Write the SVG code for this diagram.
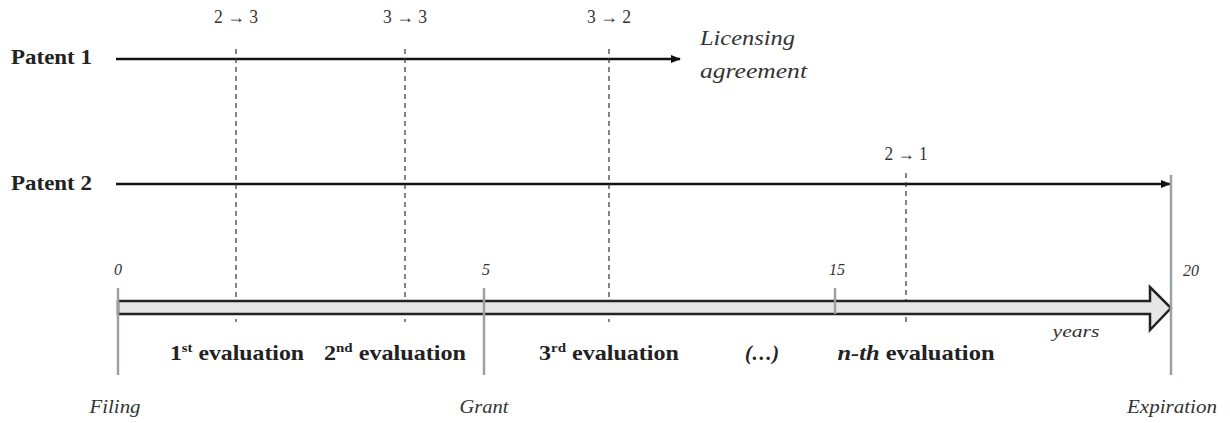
<svg xmlns="http://www.w3.org/2000/svg" width="1230" height="423" viewBox="0 0 1230 423">
<style>
text{font-family:"Liberation Serif","Times New Roman",serif;fill:#222}
.pat{font-size:21px;font-weight:bold}
.tr{font-size:18px;text-anchor:middle;fill:#333}
.it{font-style:italic;fill:#333}
.num{font-size:16px;text-anchor:middle}
.ev{font-size:21px;font-weight:bold;text-anchor:middle}
.dash{stroke:#333;stroke-width:1.2;stroke-dasharray:5,4;fill:none}
.gray{stroke:#98a0a8;stroke-width:2.5;fill:none}
.line{stroke:#111;stroke-width:2.5;fill:none}
</style>
<defs>
<marker id="ah" markerWidth="10" markerHeight="8" refX="9" refY="4" orient="auto" markerUnits="userSpaceOnUse">
<path d="M0,0 L10,4 L0,8 Z" fill="#111"/>
</marker>
</defs>
<g id="connectors">
<line class="line" x1="116" y1="59" x2="680" y2="59" marker-end="url(#ah)"/>
<line class="line" x1="116" y1="184" x2="1170" y2="184" marker-end="url(#ah)"/>
<line class="dash" x1="236" y1="49" x2="236" y2="322"/>
<line class="dash" x1="405" y1="49" x2="405" y2="322"/>
<line class="dash" x1="609" y1="49" x2="609" y2="322"/>
<line class="dash" x1="906" y1="173" x2="906" y2="322"/>
</g>
<g id="timeline">
<path d="M118,301 L1150,301 L1150,287 L1171,308 L1150,330 L1150,314 L118,314 Z" fill="#e6e6e6" stroke="#222" stroke-width="2.5" stroke-linejoin="miter"/>
<line class="gray" x1="118" y1="288" x2="118" y2="375"/>
<line class="gray" x1="484" y1="288" x2="484" y2="375"/>
<line class="gray" x1="835" y1="288" x2="835" y2="314"/>
<line class="gray" x1="1171" y1="175" x2="1171" y2="375"/>
</g>
<g id="patent1">
<text class="pat" x="11" y="64" textLength="81" lengthAdjust="spacingAndGlyphs">Patent 1</text>
<text class="tr" x="236" y="23" textLength="44" lengthAdjust="spacingAndGlyphs">2 → 3</text>
<text class="tr" x="405" y="23" textLength="44" lengthAdjust="spacingAndGlyphs">3 → 3</text>
<text class="tr" x="609" y="23" textLength="44" lengthAdjust="spacingAndGlyphs">3 → 2</text>
<text class="it" x="700" y="45" font-size="22" textLength="95" lengthAdjust="spacingAndGlyphs">Licensing</text>
<text class="it" x="700" y="78" font-size="22" textLength="107" lengthAdjust="spacingAndGlyphs">agreement</text>
</g>
<g id="patent2">
<text class="pat" x="11" y="190" textLength="81" lengthAdjust="spacingAndGlyphs">Patent 2</text>
<text class="tr" x="906" y="160" textLength="43" lengthAdjust="spacingAndGlyphs">2 → 1</text>
</g>
<g id="labels">
<text class="it num" x="118" y="275">0</text>
<text class="it num" x="486" y="275">5</text>
<text class="it num" x="837" y="275">15</text>
<text class="it num" x="1191" y="276">20</text>
<text class="ev" x="237" y="360" textLength="134" lengthAdjust="spacingAndGlyphs">1<tspan font-size="13" dy="-8">st</tspan><tspan dy="8"> evaluation</tspan></text>
<text class="ev" x="395" y="360" textLength="142" lengthAdjust="spacingAndGlyphs">2<tspan font-size="13" dy="-8">nd</tspan><tspan dy="8"> evaluation</tspan></text>
<text class="ev" x="609" y="360" textLength="140" lengthAdjust="spacingAndGlyphs">3<tspan font-size="13" dy="-8">rd</tspan><tspan dy="8"> evaluation</tspan></text>
<text class="ev" x="762" y="360" font-style="italic" textLength="34" lengthAdjust="spacingAndGlyphs">(…)</text>
<text class="ev" x="916" y="360" textLength="157" lengthAdjust="spacingAndGlyphs"><tspan font-style="italic">n-th</tspan> evaluation</text>
<text class="it" x="1076" y="337" font-size="17" text-anchor="middle" textLength="47" lengthAdjust="spacingAndGlyphs">years</text>
<text class="it" x="115" y="413" font-size="18" text-anchor="middle" textLength="51" lengthAdjust="spacingAndGlyphs">Filing</text>
<text class="it" x="484" y="413" font-size="18" text-anchor="middle" textLength="49" lengthAdjust="spacingAndGlyphs">Grant</text>
<text class="it" x="1172" y="413" font-size="18" text-anchor="middle" textLength="90" lengthAdjust="spacingAndGlyphs">Expiration</text>
</g>
</svg>
